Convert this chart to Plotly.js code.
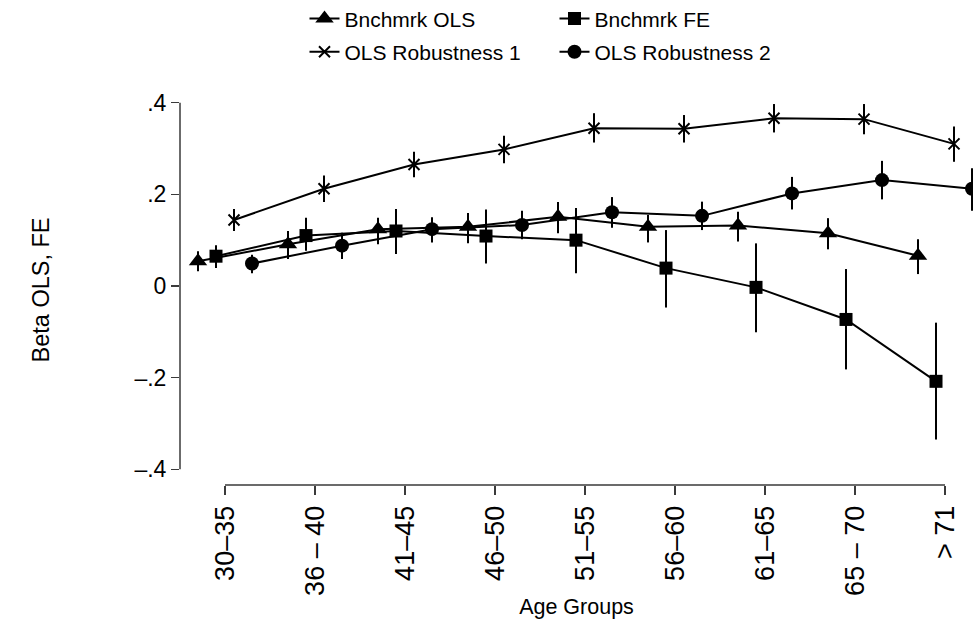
<!DOCTYPE html>
<html>
<head>
<meta charset="utf-8">
<script src="https://cdn.plot.ly/plotly-3.0.1.min.js"></script>
<style>
  html, body { margin: 0; padding: 0; background: #fff; }
  #chart { width: 973px; height: 619px; }
</style>
</head>
<body>
<div id="chart"></div>
<script>
// Age-group categories and tick labels
const ageGroups = ["30\u201335", "36 \u2013 40", "41\u201345", "46\u201350", "51\u201355",
                   "56\u201360", "61\u201365", "65 \u2013 70", "> 71"];

// Benchmark OLS: point estimates and 95% CI bounds
const olsBeta = [0.054, 0.091, 0.124, 0.129, 0.151, 0.129, 0.132, 0.115, 0.066];
const olsLo   = [0.032, 0.059, 0.091, 0.093, 0.115, 0.095, 0.097, 0.080, 0.026];
const olsHi   = [0.076, 0.120, 0.149, 0.159, 0.183, 0.155, 0.162, 0.148, 0.102];

// Benchmark FE
const feBeta = [0.065, 0.110, 0.120, 0.109, 0.100, 0.039, -0.003, -0.073, -0.208];
const feLo   = [0.039, 0.077, 0.070, 0.049, 0.028, -0.047, -0.101, -0.182, -0.335];
const feHi   = [0.089, 0.149, 0.168, 0.167, 0.170, 0.122, 0.093, 0.037, -0.080];

// OLS robustness check 1
const rob1Beta = [0.144, 0.212, 0.265, 0.298, 0.344, 0.343, 0.366, 0.364, 0.310];
const rob1Lo   = [0.120, 0.183, 0.237, 0.268, 0.313, 0.313, 0.335, 0.331, 0.271];
const rob1Hi   = [0.168, 0.241, 0.293, 0.328, 0.377, 0.373, 0.397, 0.397, 0.348];

// OLS robustness check 2
const rob2Beta = [0.049, 0.088, 0.124, 0.133, 0.161, 0.153, 0.202, 0.231, 0.212];
const rob2Lo   = [0.028, 0.059, 0.095, 0.102, 0.127, 0.122, 0.167, 0.189, 0.164];
const rob2Hi   = [0.068, 0.116, 0.150, 0.164, 0.194, 0.184, 0.238, 0.273, 0.257];

// Y tick values and their labels
const yTickVals = [-0.4, -0.2, 0, 0.2, 0.4];
const yTickText = ["\u2013.4", "\u2013.2", "0", ".2", ".4"];

const FONT = "Liberation Sans, Arial, Helvetica, sans-serif";
const AXIS_COLOR = "#3a3a3a";
const xRange = [0.5, 9.311];
const yRange = [-0.4342, 0.4167];

const positions = ageGroups.map((_, i) => i + 1);

function series(name, beta, lo, hi, offset, symbol, size, legendId, extraMarker) {
  return {
    type: "scatter",
    mode: "lines+markers",
    name: name,
    legend: legendId,
    x: positions.map(p => p + offset),
    y: beta,
    line: { color: "#000", width: 2 },
    marker: Object.assign({ symbol: symbol, size: size, color: "#000" }, extraMarker || {}),
    error_y: {
      type: "data",
      symmetric: false,
      array: hi.map((h, i) => h - beta[i]),
      arrayminus: beta.map((b, i) => b - lo[i]),
      width: 0,
      thickness: 2,
      color: "#000"
    },
    cliponaxis: true,
    hoverinfo: "skip"
  };
}

const traces = [
  series("Bnchmrk OLS", olsBeta, olsLo, olsHi, -0.3, "triangle-up", 16, "legend"),
  series("Bnchmrk FE", feBeta, feLo, feHi, -0.1, "square", 13, "legend"),
  series("OLS Robustness 1", rob1Beta, rob1Lo, rob1Hi, 0.1, "x-thin-open", 11, "legend2",
         { line: { color: "#000", width: 2 } }),
  series("OLS Robustness 2", rob2Beta, rob2Lo, rob2Hi, 0.3, "circle", 14, "legend2")
];

// Axis lines span only the labelled range, as in Stata's layout
const px = v => (v - xRange[0]) / (xRange[1] - xRange[0]);
const py = v => (v - yRange[0]) / (yRange[1] - yRange[0]);

const legendCommon = {
  orientation: "h",
  xanchor: "left",
  yanchor: "middle",
  font: { family: FONT, size: 21, color: "#000" },
  bgcolor: "rgba(0,0,0,0)",
  entrywidth: 205,
  entrywidthmode: "pixels",
  itemwidth: 30,
  tracegroupgap: 0
};

const layout = {
  width: 973,
  height: 619,
  margin: { l: 180, r: 0, t: 95, b: 134, pad: 0, autoexpand: false },
  paper_bgcolor: "#fff",
  plot_bgcolor: "#fff",
  showlegend: true,
  font: { family: FONT, color: "#000" },
  xaxis: {
    range: xRange,
    tickvals: positions,
    ticktext: ageGroups,
    tickangle: -90,
    ticks: "outside",
    ticklen: 9,
    tickwidth: 1.5,
    tickcolor: AXIS_COLOR,
    showline: false,
    showgrid: false,
    zeroline: false,
    automargin: false,
    tickfont: { family: FONT, size: 27, color: "#000" },
    title: { text: "Age Groups", font: { family: FONT, size: 21.5, color: "#000" }, standoff: 10 },
    fixedrange: true
  },
  yaxis: {
    range: yRange,
    tickvals: yTickVals,
    ticktext: yTickText,
    ticks: "outside",
    ticklen: 8,
    tickwidth: 1.5,
    tickcolor: AXIS_COLOR,
    showline: false,
    showgrid: false,
    zeroline: false,
    automargin: false,
    tickfont: { family: FONT, size: 23, color: "#000" },
    title: { text: "Beta OLS, FE", font: { family: FONT, size: 23.5, color: "#000" }, standoff: 78 },
    fixedrange: true
  },
  legend: Object.assign({}, legendCommon, { x: 0.157, y: 1.195 }),
  legend2: Object.assign({}, legendCommon, { x: 0.157, y: 1.11 }),
  shapes: [
    { type: "line", xref: "paper", yref: "paper", x0: 0, x1: 0, y0: py(-0.4), y1: py(0.4),
      line: { color: AXIS_COLOR, width: 1.5 } },
    { type: "line", xref: "paper", yref: "paper", x0: px(1), x1: px(9), y0: 0, y1: 0,
      line: { color: AXIS_COLOR, width: 1.5 } }
  ]
};

Plotly.newPlot("chart", traces, layout, { displayModeBar: false, staticPlot: true });
</script>
</body>
</html>
